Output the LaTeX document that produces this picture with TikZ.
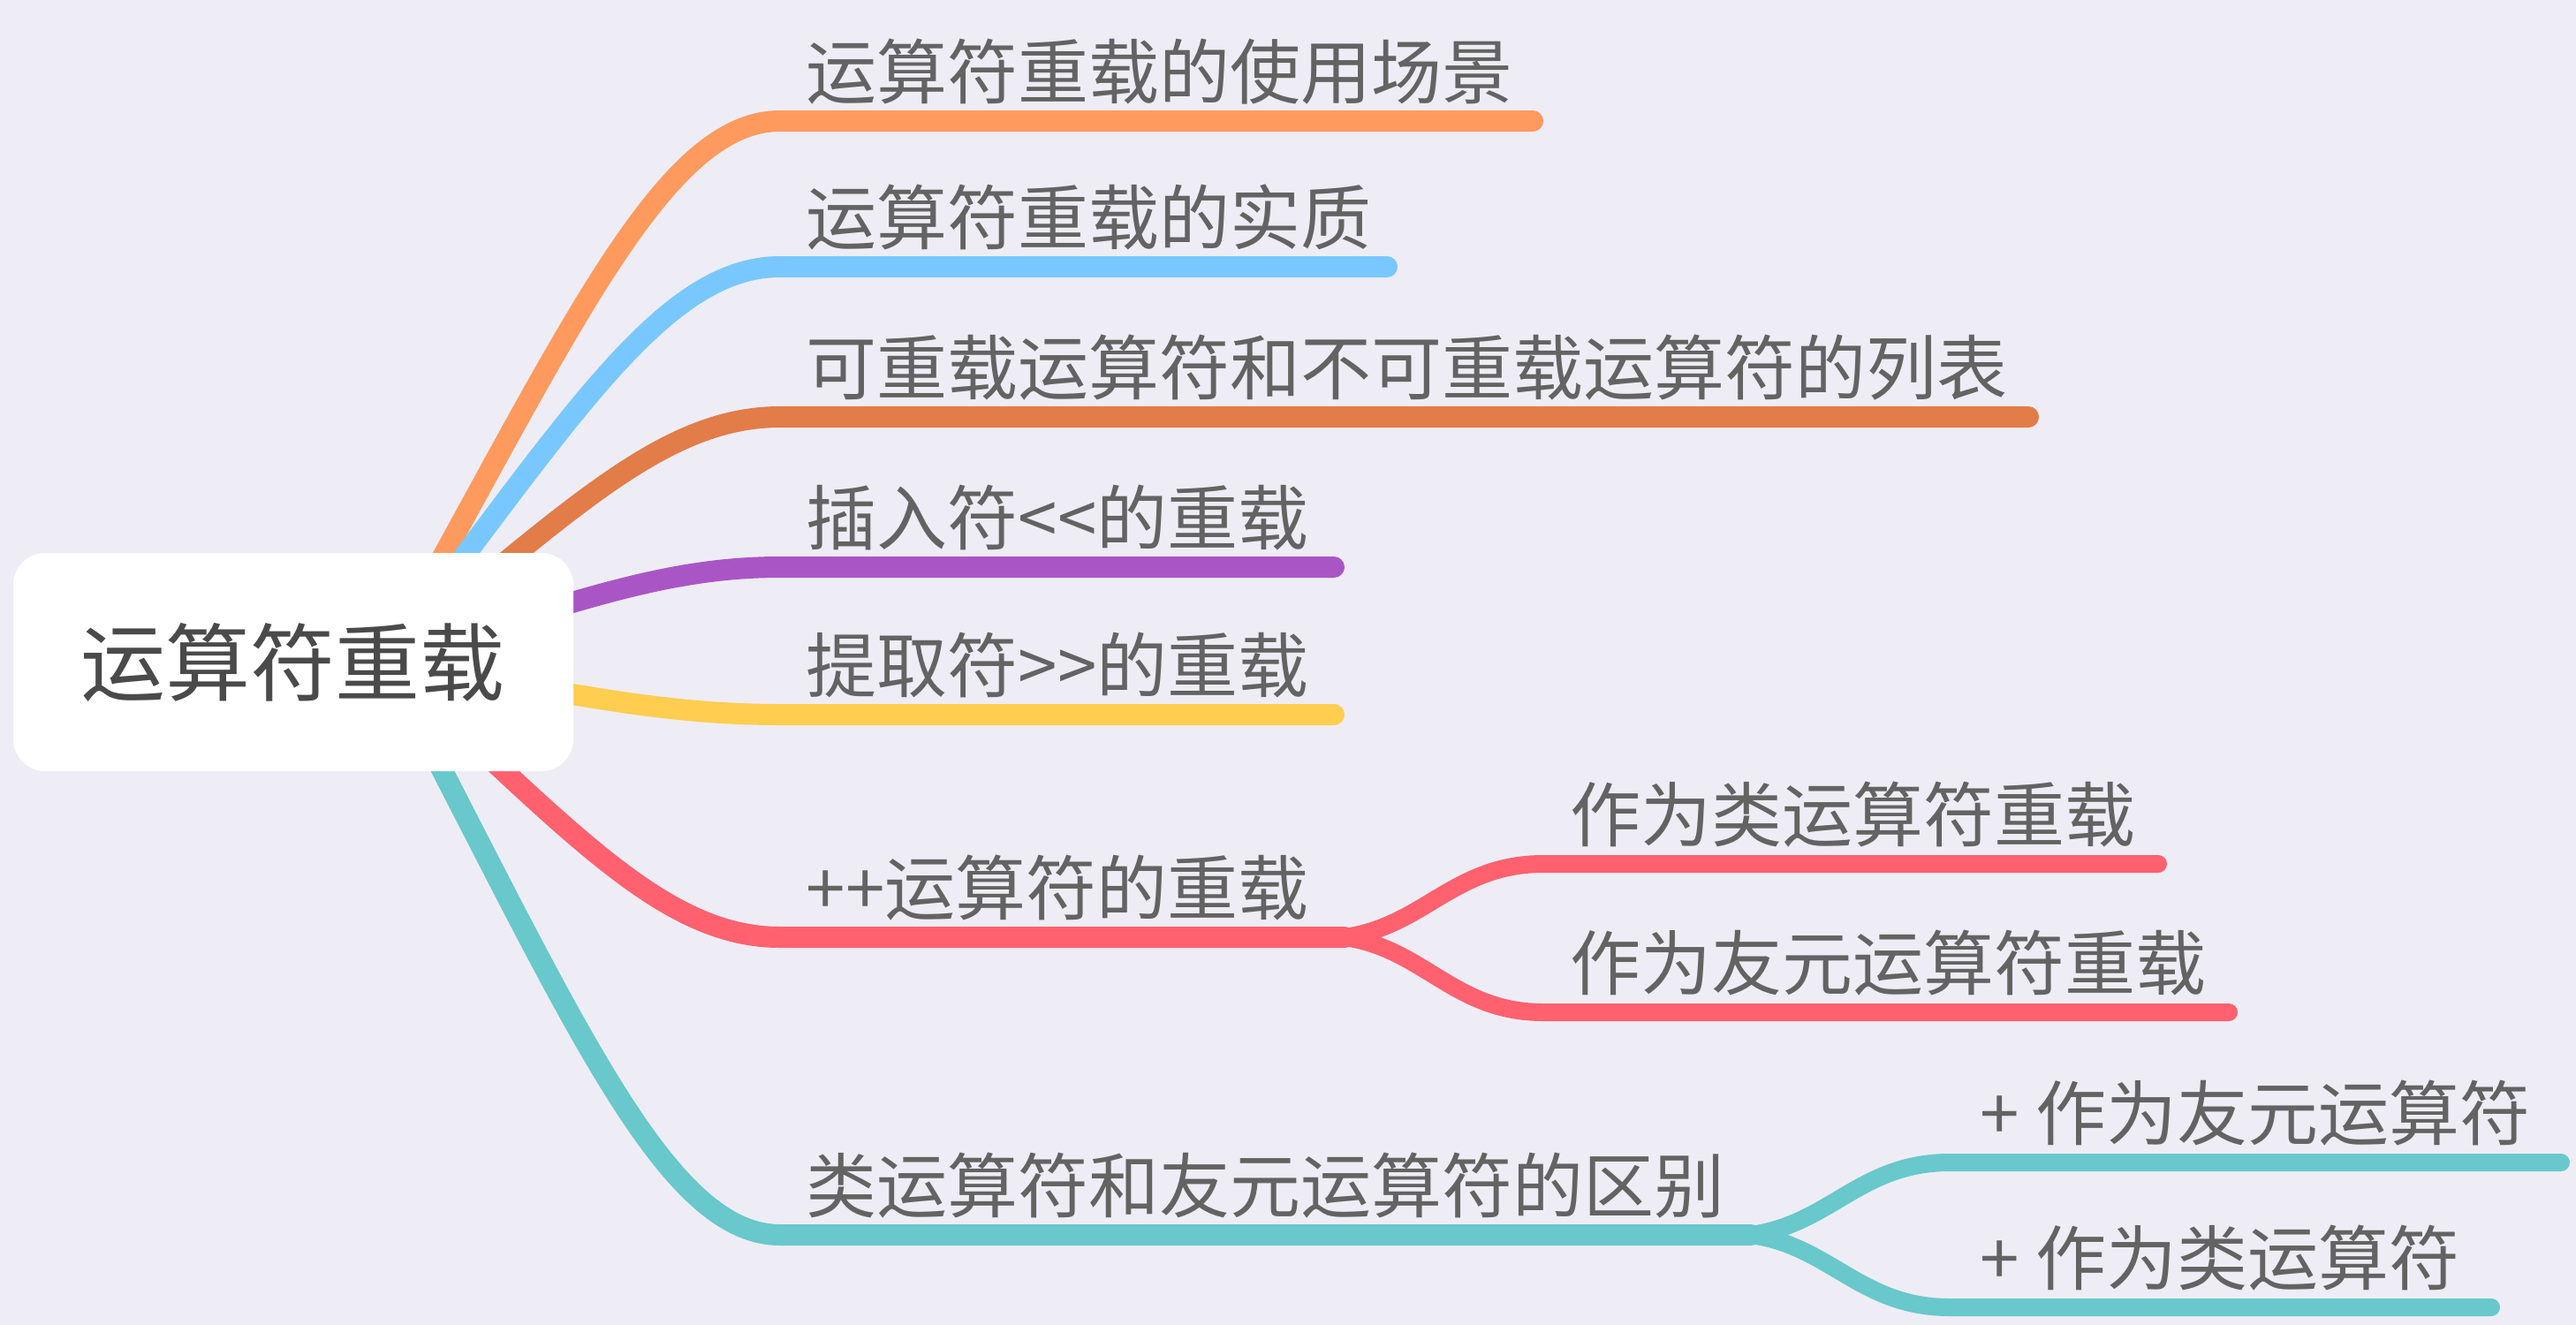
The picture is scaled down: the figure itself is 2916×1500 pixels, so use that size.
\documentclass[tikz,border=0pt]{standalone}
\usepackage{fontspec}
\newfontfamily\cjk{Noto Sans CJK SC}
\usepackage{tikz}
\usetikzlibrary{calc}
\definecolor{mmbg}{HTML}{EEEDF5}
\definecolor{mmtext}{HTML}{636363}
\definecolor{mmroottext}{HTML}{4A4A4A}
\definecolor{mmorange}{HTML}{FF9A5E}
\definecolor{mmblue}{HTML}{78C8FF}
\definecolor{mmrust}{HTML}{E27C48}
\definecolor{mmpurple}{HTML}{AA55C6}
\definecolor{mmyellow}{HTML}{FFCD4F}
\definecolor{mmred}{HTML}{FF616F}
\definecolor{mmteal}{HTML}{68C8CB}
\tikzset{
  mmroot/.style={
    rectangle, rounded corners=9pt, fill=white,
    minimum width=158.5pt, minimum height=61.75pt,
    text=mmroottext, font=\cjk\fontsize{24}{28}\selectfont, inner sep=0pt
  },
  mmtopic/.style={anchor=base west, inner sep=0pt, text=mmtext, font=\cjk\fontsize{20}{24}\selectfont},
  mmline/.style={line width=6pt, line cap=round, line join=round},
  mmsubline/.style={mmline, line width=5pt},
  mmcurve/.style={to path={let \p1=(\tikztostart), \p2=(\tikztotarget) in
    .. controls ({\x1+0.46*(\x2-\x1)},{\y1+0.6*(\y2-\y1)}) and ({\x1+0.7*(\x2-\x1)},\y2) .. (\tikztotarget)}},
  mmfork/.style={to path={let \p1=(\tikztostart), \p2=(\tikztotarget) in
    .. controls ({\x1+0.4*(\x2-\x1)},{\y1+0.15*(\y2-\y1)}) and ({\x1+0.55*(\x2-\x1)},\y2) .. (\tikztotarget)}},
}
\begin{document}
\begin{tikzpicture}[x=0.25pt, y=-0.25pt]
  \useasboundingbox[fill=mmbg] (0,0) rectangle (2916,1500);
  \coordinate (hub) at (436,748);
  % main branches
  \coordinate (c1a) at (883,137);  \coordinate (c1b) at (1735,137);
  \coordinate (c2a) at (883,302);  \coordinate (c2b) at (1570,302);
  \coordinate (c3a) at (883,472);  \coordinate (c3b) at (2296,472);
  \coordinate (c4a) at (883,642);  \coordinate (c4b) at (1510,642);
  \coordinate (c5a) at (883,809);  \coordinate (c5b) at (1510,809);
  \coordinate (c6a) at (883,1061); \coordinate (c6b) at (1522,1061);
  \coordinate (c7a) at (883,1398); \coordinate (c7b) at (1982,1398);
  \draw[mmline, draw=mmorange] (hub) to[mmcurve] (c1a) -- (c1b);
  \draw[mmline, draw=mmblue]   (hub) to[mmcurve] (c2a) -- (c2b);
  \draw[mmline, draw=mmrust]   (hub) to[mmcurve] (c3a) -- (c3b);
  \draw[mmline, draw=mmpurple] (hub) to[mmcurve] (c4a) -- (c4b);
  \draw[mmline, draw=mmyellow] (hub) to[mmcurve] (c5a) -- (c5b);
  \draw[mmline, draw=mmred]    (hub) to[mmcurve] (c6a) -- (c6b);
  \draw[mmline, draw=mmteal]   (hub) to[mmcurve] (c7a) -- (c7b);
  % sub branches
  \coordinate (d6a) at (1747,978);  \coordinate (e6a) at (2443,978);
  \coordinate (d6b) at (1747,1146); \coordinate (e6b) at (2523,1146);
  \coordinate (d7a) at (2207,1316); \coordinate (e7a) at (2899,1316);
  \coordinate (d7b) at (2207,1480); \coordinate (e7b) at (2820,1480);
  \draw[mmsubline, draw=mmred]  (c6b) to[mmfork] (d6a) -- (e6a);
  \draw[mmsubline, draw=mmred]  (c6b) to[mmfork] (d6b) -- (e6b);
  \draw[mmsubline, draw=mmteal] (c7b) to[mmfork] (d7a) -- (e7a);
  \draw[mmsubline, draw=mmteal] (c7b) to[mmfork] (d7b) -- (e7b);
  % labels
  \node (t1) [mmtopic] at (912,111)  {运算符重载的使用场景};
  \node (t2) [mmtopic] at (912,276)  {运算符重载的实质};
  \node (t3) [mmtopic] at (912,446)  {可重载运算符和不可重载运算符的列表};
  \node (t4) [mmtopic] at (912,616)  {插入符<<的重载};
  \node (t5) [mmtopic] at (912,783)  {提取符>>的重载};
  \node (t6) [mmtopic] at (912,1035) {++运算符的重载};
  \node (t7) [mmtopic] at (912,1372) {类运算符和友元运算符的区别};
  \node (s6a) [mmtopic] at (1777,952)  {作为类运算符重载};
  \node (s6b) [mmtopic] at (1777,1120) {作为友元运算符重载};
  \node (s7a) [mmtopic] at (2241,1290) {+ 作为友元运算符};
  \node (s7b) [mmtopic] at (2241,1454) {+ 作为类运算符};
  \node (root) [mmroot] at (332,749.5) {运算符重载};
\end{tikzpicture}
\end{document}
